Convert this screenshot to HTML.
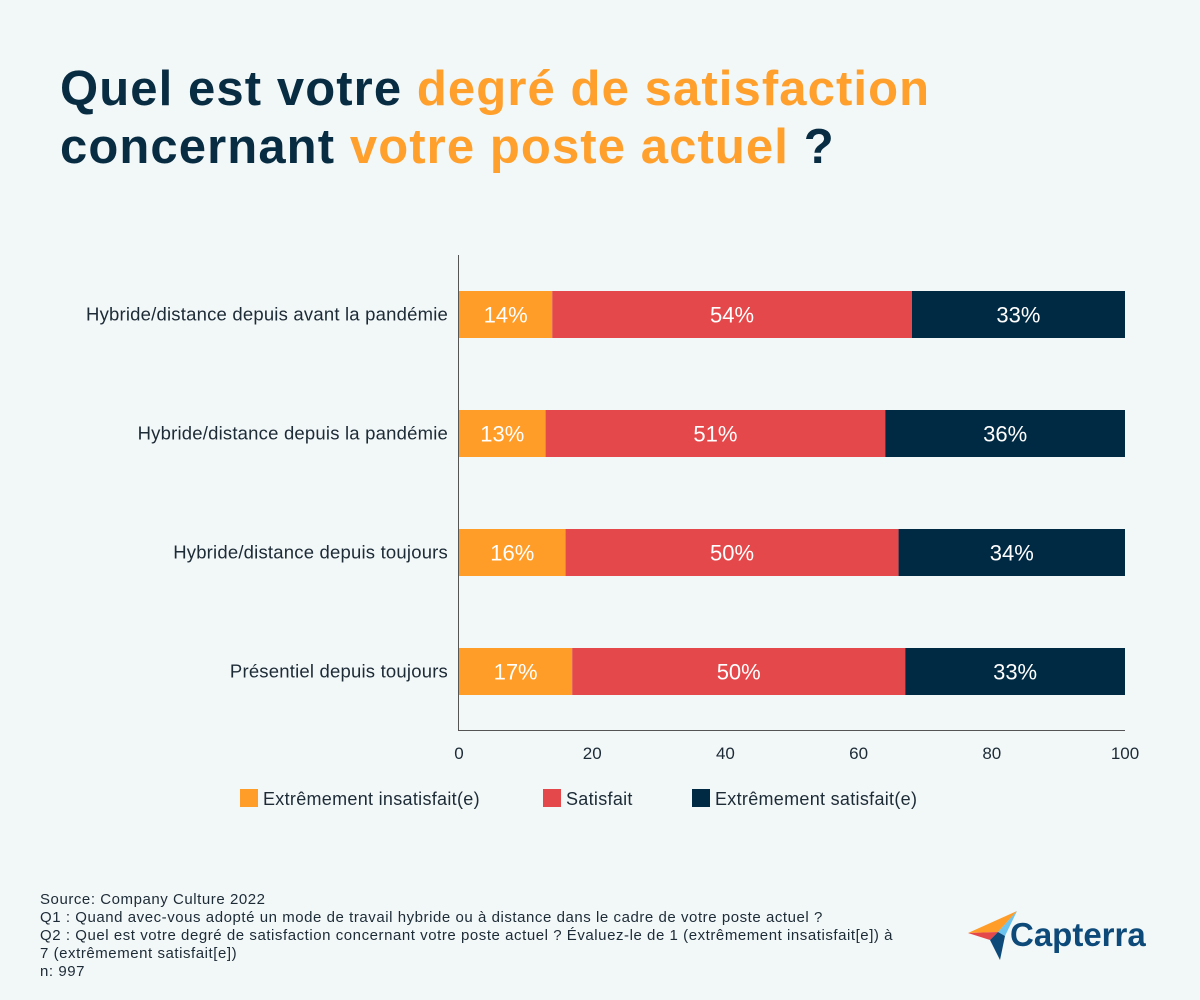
<!DOCTYPE html>
<html><head><meta charset="utf-8"><style>
body{margin:0;background:#f2f7f8;font-family:"Liberation Sans",sans-serif}
#wrap{position:relative;width:1200px;height:1000px;overflow:hidden}
h1{position:absolute;left:60px;top:60px;margin:0;font-size:49px;line-height:58px;font-weight:bold;color:#082c41;letter-spacing:1.1px}
h1 span{color:#ff9f2c}
.notes{position:absolute;left:40px;top:891px;font-size:15px;line-height:18px;color:#1d2b36;width:940px;letter-spacing:0.55px}
</style></head><body><div id="wrap">
<h1>Quel est votre <span>degré de satisfaction</span><br>concernant <span>votre poste actuel</span> ?</h1>
<svg id="chart" width="1200" height="1000" style="position:absolute;left:0;top:0"></svg>
<div class="notes">Source: Company Culture 2022<br>Q1 : Quand avec-vous adopté un mode de travail hybride ou à distance dans le cadre de votre poste actuel ?<br>Q2 : Quel est votre degré de satisfaction concernant votre poste actuel ? Évaluez-le de 1 (extrêmement insatisfait[e]) à<br>7 (extrêmement satisfait[e])<br>n: 997</div>
<svg width="200" height="60" style="position:absolute;left:960px;top:900px">
<polygon points="8,33 57,11 38,32" fill="#ff9d28"/><polygon points="8,33 38,32 30,40" fill="#e5484a"/>
<polygon points="57,11 38,32 45,36" fill="#6cc4ef"/><polygon points="38,32 45,36 40,60 30,40" fill="#0d4a7a"/>
<text x="50" y="46" font-family="Liberation Sans, sans-serif" font-weight="bold" font-size="33" fill="#0d4a7a">Capterra</text>
</svg>
</div>
<script>
const categories=["Hybride/distance depuis avant la pandémie","Hybride/distance depuis la pandémie","Hybride/distance depuis toujours","Présentiel depuis toujours"];
const insatisfait=[14,13,16,17];
const satisfait=[54,51,50,50];
const tresSatisfait=[33,36,34,33];
const xTicks=[0,20,40,60,80,100];
const seriesNames=["Extrêmement insatisfait(e)","Satisfait","Extrêmement satisfait(e)"];
const colors=["#ff9d28","#e5484a","#002a43"];
const NS="http://www.w3.org/2000/svg";
const svg=document.getElementById('chart');
const x0=459,x1=1125,yTop=255,yBot=730,rowStart=291,rowStep=119,barH=47;
const xs=v=>x0+(Math.min(v,100))/100*(x1-x0);
const ys=i=>rowStart+i*rowStep;
function mk(t,a){const e=document.createElementNS(NS,t);for(const k in a)e.setAttribute(k,a[k]);svg.appendChild(e);return e;}
const series=[insatisfait,satisfait,tresSatisfait];
categories.forEach((c,i)=>{
  const lab=mk('text',{x:448,y:ys(i)+barH/2+6,'text-anchor':'end','font-size':18.5,fill:'#1d2b36','letter-spacing':0.2});
  lab.textContent=c;
  
  
  let cum=0;
  series.forEach((s,j)=>{
    const a=xs(cum),b=xs(cum+s[i]);cum+=s[i];
    const r=mk('rect',{x:a,y:ys(i),width:b-a,height:barH,fill:colors[j]});
    
    
    const t=mk('text',{x:(a+b)/2,y:ys(i)+barH/2+8,'text-anchor':'middle','font-size':22,fill:'#fff'});
    t.textContent=s[i]+'%';
    
    
  });
});
const ya=mk('line',{x1:458.5,y1:yTop,x2:458.5,y2:yBot,stroke:'#555','stroke-width':1});


const xa=mk('line',{x1:458,y1:yBot+0.5,x2:x1,y2:yBot+0.5,stroke:'#555','stroke-width':1});


xTicks.forEach(v=>{
  const t=mk('text',{x:xs(v),y:759,'text-anchor':'middle','font-size':17,fill:'#1d2b36'});
  t.textContent=v;
  
  
});
const legX=[240,543,692];
seriesNames.forEach((n,j)=>{
  const r=mk('rect',{x:legX[j],y:789,width:18,height:18,fill:colors[j]});
  
  
  const t=mk('text',{x:legX[j]+23,y:805,'font-size':18,fill:'#1d2b36','letter-spacing':0.3});
  t.textContent=n;
  
  
});
</script>
</body></html>
